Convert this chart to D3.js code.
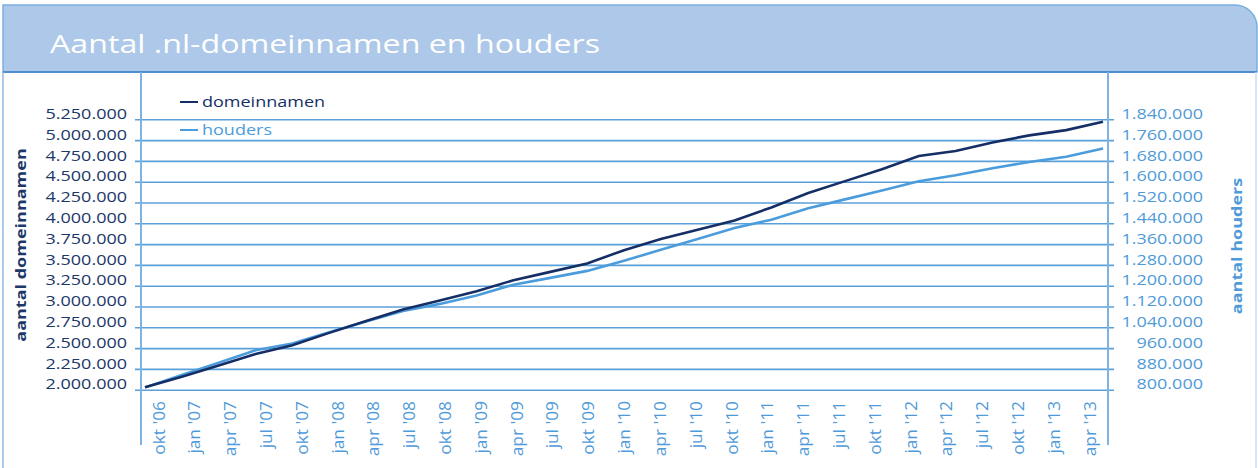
<!DOCTYPE html>
<html>
<head>
<meta charset="utf-8">
<script src="https://cdn.jsdelivr.net/npm/d3@7"></script>
<style>
  body { margin: 0; background: #fff; }
  text { font-family: "Open Sans", sans-serif; }
</style>
</head>
<body>
<div id="chart"></div>
<script>
// quarter labels on the x axis
var quarters = ["okt '06", "jan '07", "apr '07", "jul '07", "okt '07", "jan '08", "apr '08", "jul '08", "okt '08",
    "jan '09", "apr '09", "jul '09", "okt '09", "jan '10", "apr '10", "jul '10", "okt '10", "jan '11", "apr '11",
    "jul '11", "okt '11", "jan '12", "apr '12", "jul '12", "okt '12", "jan '13", "apr '13"];

// aantal domeinnamen (left axis)
var domeinnamen = [2028000, 2157000, 2290000, 2428000, 2535000, 2683000, 2825000, 2964000, 3072000,
    3184000, 3316000, 3416000, 3517000, 3677000, 3810000, 3922000, 4034000, 4191000, 4365000,
    4507000, 4649000, 4808000, 4868000, 4971000, 5057000, 5120000, 5220000];

// aantal houders (right axis)
var houders = [809000, 857000, 904000, 952000, 978000, 1021000, 1062000, 1103000, 1130000,
    1162000, 1204000, 1230000, 1257000, 1296000, 1338000, 1380000, 1422000, 1454000, 1498000,
    1532000, 1566000, 1602000, 1625000, 1652000, 1676000, 1696000, 1728000];

var leftTicks = [2000000, 2250000, 2500000, 2750000, 3000000, 3250000, 3500000, 3750000, 4000000,
    4250000, 4500000, 4750000, 5000000, 5250000];
var rightTicks = [800000, 880000, 960000, 1040000, 1120000, 1200000, 1280000, 1360000, 1440000,
    1520000, 1600000, 1680000, 1760000, 1840000];

var svgWidth = 1258, svgHeight = 468;
var dark = "#152f66", light = "#4b9cdc", grid = "#5b9fd8";

var nl = d3.formatLocale({ decimal: ",", thousands: ".", grouping: [3], currency: ["€", ""] });
var fmt = nl.format(",d");

// text in the original looks wider than the fonts we have
function stretch(sel, k) {
    sel.each(function () {
        var w = this.getComputedTextLength();
        d3.select(this).attr("textLength", w * k).attr("lengthAdjust", "spacingAndGlyphs");
    });
}

var svg = d3.select("#chart").append("svg")
    .attr("width", svgWidth)
    .attr("height", svgHeight);

// header band
svg.append("path")
    .attr("d", "M3,72 V5 H1235 A22,22 0 0 1 1257,27 V72 Z")
    .style("fill", "#adc8e8")
    .style("stroke", "#78b0e0")
    .style("stroke-width", 1.5);

svg.append("line")
    .attr("x1", 3).attr("x2", 1257).attr("y1", 72).attr("y2", 72)
    .style("stroke", "#4e8fcf").style("stroke-width", 2);

svg.append("line")
    .attr("x1", 3).attr("x2", 3).attr("y1", 72).attr("y2", 468)
    .style("stroke", "#8dbbe5").style("stroke-width", 1.5);
svg.append("line")
    .attr("x1", 1256).attr("x2", 1256).attr("y1", 72).attr("y2", 468)
    .style("stroke", "#c9def2").style("stroke-width", 1.5);

svg.append("text")
    .attr("x", 50).attr("y", 53)
    .style("fill", "#fff")
    .style("font-size", "25px")
    .text("Aantal .nl-domeinnamen en houders")
    .attr("textLength", 550)
    .attr("lengthAdjust", "spacingAndGlyphs");

// scales
var yLeft = d3.scaleLinear().domain([2000000, 5250000]).range([389.7, 119.3]);
var yRight = d3.scaleLinear().domain([800000, 1840000]).range([389.7, 119.3]);
var xBand = d3.scaleBand().domain(quarters).range([141, 1108]);
var xPoint = d3.scalePoint().domain(quarters).range([145, 1103]);

// gridlines + left labels
var leftAxis = svg.append("g")
    .attr("transform", "translate(135,0)")
    .call(d3.axisLeft(yLeft).tickValues(leftTicks).tickFormat(fmt).tickSize(-979).tickPadding(8));
leftAxis.select(".domain").remove();
leftAxis.selectAll("line").style("stroke", grid).style("stroke-width", 1.6);
leftAxis.selectAll("text")
    .attr("dy", "-0.05em")
    .style("font-size", "15px")
    .style("fill", "#1c3768");
stretch(leftAxis.selectAll("text"), 1.2);

var rightAxis = svg.append("g")
    .attr("transform", "translate(1114,0)")
    .call(d3.axisRight(yRight).tickValues(rightTicks).tickFormat(fmt).tickSize(0));
rightAxis.select(".domain").remove();
rightAxis.selectAll("text")
    .attr("x", 89)
    .attr("dy", "-0.05em")
    .attr("text-anchor", "end")
    .style("font-size", "15px")
    .style("fill", "#4f9ad8");
stretch(rightAxis.selectAll("text"), 1.2);

// vertical frame lines of the plot
svg.append("line")
    .attr("x1", 141).attr("x2", 141).attr("y1", 72).attr("y2", 445)
    .style("stroke", "#7db3e2").style("stroke-width", 2);
svg.append("line")
    .attr("x1", 1108).attr("x2", 1108).attr("y1", 72).attr("y2", 445)
    .style("stroke", "#7db3e2").style("stroke-width", 2);

// x axis labels
var xAxis = svg.append("g")
    .attr("transform", "translate(0,390)")
    .call(d3.axisBottom(xBand).tickSize(0));
xAxis.select(".domain").remove();
xAxis.selectAll("text")
    .attr("transform", "rotate(-90)")
    .attr("x", -11)
    .attr("y", 0)
    .attr("dy", "0.35em")
    .attr("text-anchor", "end")
    .style("font-size", "16px")
    .style("fill", "#4f9ad8");
stretch(xAxis.selectAll("text"), 1.08);

// lines
var lineLeft = d3.line()
    .x(function (d, i) { return xPoint(quarters[i]); })
    .y(function (d) { return yLeft(d); });
var lineRight = d3.line()
    .x(function (d, i) { return xPoint(quarters[i]); })
    .y(function (d) { return yRight(d); });

svg.append("path")
    .datum(houders)
    .attr("d", lineRight)
    .style("fill", "none")
    .style("stroke", light)
    .style("stroke-width", 2.6);

svg.append("path")
    .datum(domeinnamen)
    .attr("d", lineLeft)
    .style("fill", "none")
    .style("stroke", dark)
    .style("stroke-width", 2.6);

// legend
var legend = [{ name: "domeinnamen", color: dark }, { name: "houders", color: light }];
var lg = svg.selectAll(".legend")
    .data(legend)
    .enter().append("g")
    .attr("class", "legend")
    .attr("transform", function (d, i) { return "translate(180," + (102 + i * 28) + ")"; });
lg.append("line")
    .attr("x1", 0).attr("x2", 18)
    .style("stroke", function (d) { return d.color; })
    .style("stroke-width", 2);
lg.append("text")
    .attr("x", 22).attr("y", 5)
    .style("font-size", "15px")
    .style("fill", function (d) { return d.color; })
    .text(function (d) { return d.name; });
stretch(lg.selectAll("text"), 1.2);

// axis titles
var tl = svg.append("text")
    .attr("transform", "translate(26,245) rotate(-90)")
    .attr("text-anchor", "middle")
    .style("font-size", "15px")
    .style("font-weight", "bold")
    .style("fill", "#1c3768")
    .text("aantal domeinnamen");
stretch(tl, 1.2);

var tr = svg.append("text")
    .attr("transform", "translate(1242,246) rotate(-90)")
    .attr("text-anchor", "middle")
    .style("font-size", "15px")
    .style("font-weight", "bold")
    .style("fill", "#4f9ad8")
    .text("aantal houders");
stretch(tr, 1.2);
</script>
</body>
</html>
